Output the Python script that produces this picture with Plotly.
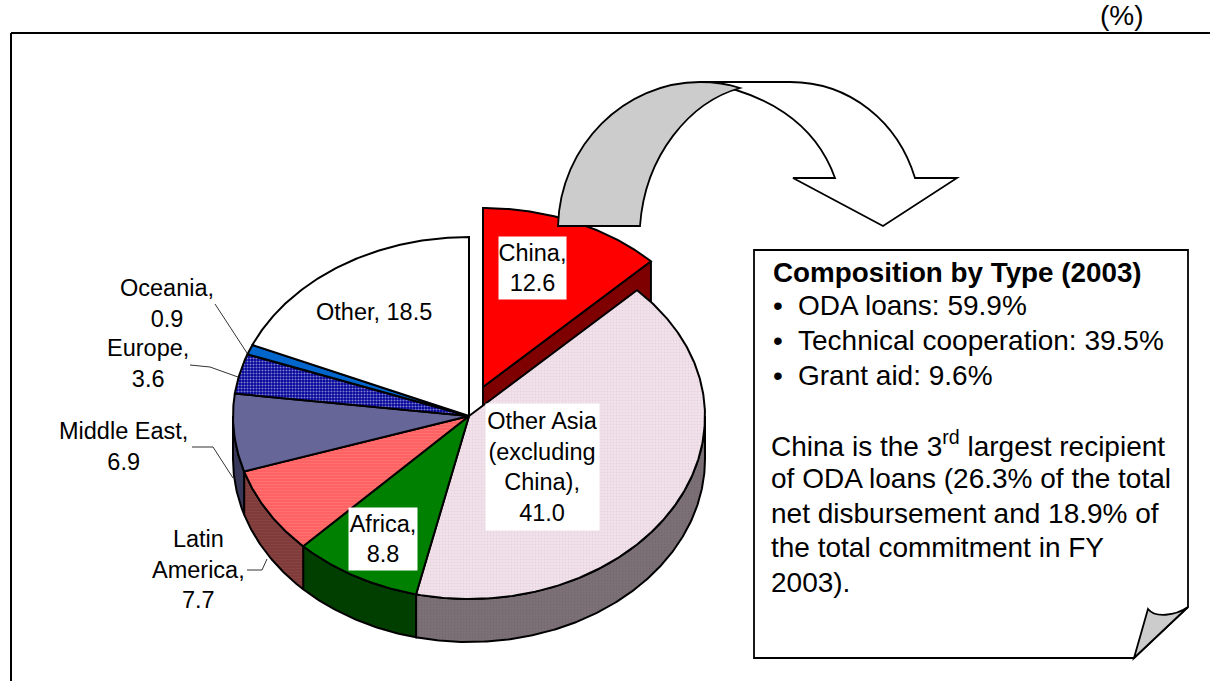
import math
import plotly.graph_objects as go

# ---- data ----
regions = ["China", "Other Asia", "Africa", "Latin America", "Middle East", "Europe", "Oceania", "Other"]
shares = [12.6, 41.0, 8.8, 7.7, 6.9, 3.6, 0.9, 18.5]
type_names = ["ODA loans", "Technical cooperation", "Grant aid"]
type_shares = [59.9, 39.5, 9.6]

W, H = 1210, 681
CX, CY = 469, 416
RX, RY_BACK, RY_FRONT = 236, 179, 183
DEPTH = 43
EXPLODE = {"China": (14, -29)}
LINE = dict(color="black", width=2)

TOP_STYLE = {
    "China": dict(fillcolor="#ff0000"),
    "Other Asia": dict(fillcolor="#f0dfe8", fillpattern=dict(shape=".", bgcolor="#f2e2ea", fgcolor="#dcc4d2", size=3, solidity=0.3)),
    "Africa": dict(fillcolor="#008000"),
    "Latin America": dict(fillcolor="#ff6666", fillpattern=dict(shape="-", bgcolor="#ff6060", fgcolor="#ff8080", size=3, solidity=0.4)),
    "Middle East": dict(fillcolor="#666699"),
    "Europe": dict(fillcolor="#5050b8", fillpattern=dict(shape=".", bgcolor="#000099", fgcolor="#ffffff", size=3, solidity=0.4)),
    "Oceania": dict(fillcolor="#0066cc"),
    "Other": dict(fillcolor="#ffffff"),
}
SIDE_STYLE = {
    "China": dict(fillcolor="#7f0000"),
    "Other Asia": dict(fillcolor="#7a6f75", fillpattern=dict(shape=".", bgcolor="#7c7177", fgcolor="#6a5f65", size=3, solidity=0.3)),
    "Africa": dict(fillcolor="#003f00"),
    "Latin America": dict(fillcolor="#7f3f3f", fillpattern=dict(shape="-", bgcolor="#7f3a3a", fgcolor="#8f4a4a", size=3, solidity=0.4)),
    "Middle East": dict(fillcolor="#38385a"),
}


def rim(t, ox=0, oy=0, dz=0):
    """Point on the pie rim at clock angle t (radians)."""
    c = math.cos(t)
    ry = RY_BACK if c > 0 else RY_FRONT
    return CX + ox + RX * math.sin(t), CY + oy - ry * c + dz


def arc(a, b, ox=0, oy=0, dz=0):
    n = max(2, int(abs(b - a) / 0.01))
    return [rim(a + (b - a) * i / n, ox, oy, dz) for i in range(n + 1)]


def poly(pts, style):
    return go.Scatter(
        x=[p[0] for p in pts] + [pts[0][0]],
        y=[p[1] for p in pts] + [pts[0][1]],
        mode="lines", fill="toself", line=LINE,
        hoverinfo="skip", showlegend=False, **style,
    )


# slice angles from the values
total = sum(shares)
angles = {}
acc = 0.0
for name, v in zip(regions, shares):
    a = acc / total * 2 * math.pi
    acc += v
    angles[name] = (a, acc / total * 2 * math.pi)

fig = go.Figure()

# exploded slice: cut face and top, drawn behind the rest
ox, oy = EXPLODE["China"]
a, b = angles["China"]
end = rim(b, ox, oy)
fig.add_trace(poly([(CX + ox, CY + oy), end, (end[0], end[1] + DEPTH), (CX + ox, CY + oy + DEPTH)], SIDE_STYLE["China"]))
fig.add_trace(poly([(CX + ox, CY + oy)] + arc(a, b, ox, oy), TOP_STYLE["China"]))

# front walls of the main pie
for name in regions[1:]:
    a, b = angles[name]
    lo, hi = max(a, math.pi / 2), min(b, 3 * math.pi / 2)
    if lo < hi:
        fig.add_trace(poly(arc(lo, hi) + arc(hi, lo, dz=DEPTH), SIDE_STYLE[name]))

# top faces of the main pie
for name in regions[1:]:
    a, b = angles[name]
    fig.add_trace(poly([(CX, CY)] + arc(a, b), TOP_STYLE[name]))

EDGE = dict(color="black", width=1.8)
shapes = [
    # chart frame
    dict(type="line", x0=11, y0=33, x1=W, y1=33, line=dict(color="black", width=2)),
    dict(type="line", x0=11, y0=33, x1=11, y1=H, line=dict(color="black", width=2)),
    # curved arrow, white part then grey band
    dict(type="path", path="M700,82 L790,82 C850,82 898,122 915,178 L957,178 L883,226 L793,178 L835,178 C815,122 765,92 700,82 Z",
         fillcolor="white", line=EDGE),
    dict(type="path", path="M558,226 C560,145 625,82 700,82 C715,82 728,84 740,88 C690,102 645,155 640,226 Z",
         fillcolor="#cccccc", line=EDGE),
    # note box with folded corner
    dict(type="path", path="M754,250 L1188,250 L1188,607 L1134,658 L754,658 Z",
         fillcolor="white", line=EDGE),
    dict(type="path", path="M1134,658 L1148,609 C1155,618 1175,616 1188,607 Z",
         fillcolor="#cccccc", line=EDGE),
    # leader lines
    dict(type="path", path="M215,304 L247,353", line=dict(color="#333333", width=1)),
    dict(type="path", path="M190,365 L210,367 L238,377", line=dict(color="#333333", width=1)),
    dict(type="path", path="M192,447 L213,447 L233,478", line=dict(color="#333333", width=1)),
    dict(type="path", path="M247,570 L262,570 L267,559", line=dict(color="#333333", width=1)),
]

FONT = "Liberation Sans, Arial, sans-serif"
annotations = []


def text(s, x, y, size=23.5, xanchor="center", align="center", **kw):
    annotations.append(dict(x=x, y=y, text=s, showarrow=False, xanchor=xanchor, yanchor="middle", align=align,
                            font=dict(family=FONT, size=size, color="black"), **kw))


def f(name):
    return f"{shares[regions.index(name)]:.1f}"


text("(%)", 1122, 15, size=28)
text(f"Other, {f('Other')}", 374, 312)
text(f"Oceania,<br>{f('Oceania')}", 167, 303)
text(f"Europe,<br>{f('Europe')}", 148, 363)
text(f"Middle East,<br>{f('Middle East')}", 123, 446)
text(f"Latin<br>America,<br>{f('Latin America')}", 198, 569)
text(f"China,<br>{f('China')}", 532.5, 268, bgcolor="white", width=67, height=62, borderpad=0)
text(f"Africa,<br>{f('Africa')}", 383, 539, bgcolor="white", width=68, height=62, borderpad=0)
text(f"Other Asia<br>(excluding<br>China),<br>{f('Other Asia')}", 542.5, 467, bgcolor="white", width=113, height=126, borderpad=0)

BOX = 28
text("<b>Composition by Type (2003)</b>", 771, 272, size=BOX - 0.2, xanchor="left", align="left")
for i, (n, v) in enumerate(zip(type_names, type_shares)):
    y = 305 + i * 35
    text("•", 771, y, size=BOX, xanchor="left", align="left")
    text(f"{n}: {v}%", 796, y, size=BOX, xanchor="left", align="left")
note_lines = [
    "China is the 3<sup>rd</sup> largest recipient",
    "of ODA loans (26.3% of the total",
    "net disbursement and 18.9% of",
    "the total commitment in FY",
    "2003).",
]
for i, s in enumerate(note_lines):
    text(s, 769, 444 + i * 34.5, size=BOX, xanchor="left", align="left")

fig.update_layout(
    width=W, height=H, margin=dict(l=0, r=0, t=0, b=0),
    paper_bgcolor="white", plot_bgcolor="white",
    xaxis=dict(range=[0, W], visible=False, fixedrange=True),
    yaxis=dict(range=[H, 0], visible=False, fixedrange=True),
    shapes=shapes, annotations=annotations, showlegend=False,
)
fig.write_html("out.html", config=dict(displayModeBar=False),
               post_script="document.body.style.margin='0';")
